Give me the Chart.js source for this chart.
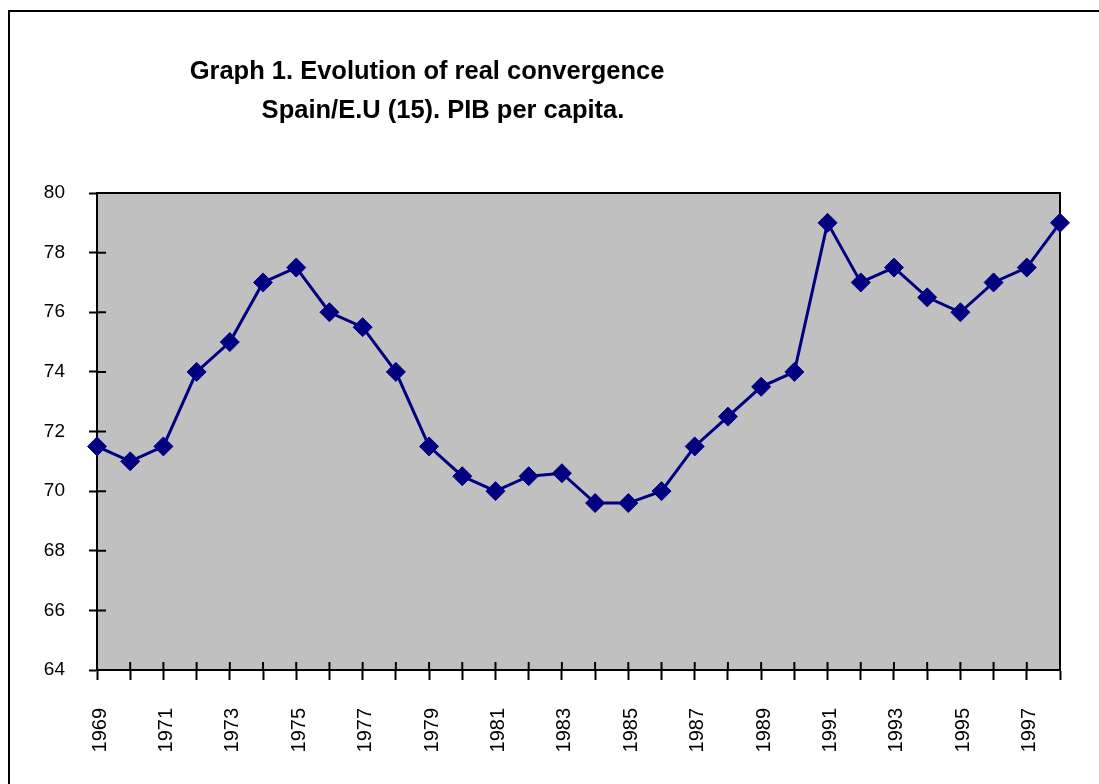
<!DOCTYPE html>
<html>
<head>
<meta charset="utf-8">
<script src="https://cdn.jsdelivr.net/npm/chart.js@4/dist/chart.umd.min.js"></script>
<style>
  body { margin: 0; background: #fff; }
  canvas { display: block; }
</style>
</head>
<body>
<canvas id="myChart" width="1099" height="784"></canvas>
<script>
const years = [
    '1969', '1970', '1971', '1972', '1973', '1974', '1975', '1976', '1977', '1978',
    '1979', '1980', '1981', '1982', '1983', '1984', '1985', '1986', '1987', '1988',
    '1989', '1990', '1991', '1992', '1993', '1994', '1995', '1996', '1997', '1998'
];
const gdpRatio = [
    71.5, 71, 71.5, 74, 75, 77, 77.5, 76, 75.5, 74,
    71.5, 70.5, 70, 70.5, 70.6, 69.6, 69.6, 70, 71.5, 72.5,
    73.5, 74, 79, 77, 77.5, 76.5, 76, 77, 77.5, 79
];
const titleLines = [
    'Graph 1. Evolution of real convergence',
    'Spain/E.U (15). PIB per capita.'
];

// white page, outer frame, grey plot area, inner half of the ticks, title
const decor = {
    id: 'decor',
    beforeDraw(chart) {
        const { ctx, chartArea: a } = chart;
        ctx.save();
        ctx.fillStyle = '#fff';
        ctx.fillRect(0, 0, chart.width, chart.height);
        ctx.strokeStyle = '#000';
        ctx.lineWidth = 2;
        ctx.strokeRect(9, 11, 1200, 900);
        ctx.fillStyle = '#c0c0c0';
        ctx.fillRect(a.left, a.top, a.right - a.left, a.bottom - a.top);

        ctx.fillStyle = '#000';
        ctx.font = 'bold 25.5px "Liberation Sans", Arial, sans-serif';
        ctx.textAlign = 'center';
        ctx.textBaseline = 'alphabetic';
        ctx.fillText(titleLines[0], 427, 79);
        ctx.fillText(titleLines[1], 443, 118);
        ctx.restore();
    },
    beforeDatasetsDraw(chart) {
        const { ctx, chartArea: a, scales } = chart;
        ctx.save();
        ctx.strokeStyle = '#000';
        ctx.lineWidth = 2;
        ctx.strokeRect(a.left, a.top, a.right - a.left, a.bottom - a.top);
        ctx.beginPath();
        scales.y.ticks.forEach((t, i) => {
            const y = scales.y.getPixelForTick(i);
            ctx.moveTo(a.left, y);
            ctx.lineTo(a.left + 9, y);
        });
        scales.x.ticks.forEach((t, i) => {
            const x = scales.x.getPixelForTick(i);
            ctx.moveTo(x, a.bottom);
            ctx.lineTo(x, a.bottom - 8);
        });
        ctx.stroke();
        ctx.restore();
    }
};

new Chart(document.getElementById('myChart'), {
    type: 'line',
    data: {
        labels: years,
        datasets: [{
            data: gdpRatio,
            borderColor: '#000080',
            backgroundColor: '#000080',
            borderWidth: 3,
            pointStyle: 'rectRot',
            pointRadius: 9.5,
            pointBorderWidth: 1,
            pointBorderColor: '#000080',
            tension: 0
        }]
    },
    options: {
        responsive: false,
        animation: false,
        devicePixelRatio: 1,
        layout: { padding: { top: 193, right: 39, left: 0, bottom: 0 } },
        plugins: {
            legend: { display: false },
            title: { display: false },
            tooltip: { enabled: false }
        },
        scales: {
            x: {
                offset: false,
                afterFit(scale) {
                    scale.height = 114;
                    scale.paddingLeft = 0;
                    scale.paddingRight = 0;
                },
                grid: {
                    drawOnChartArea: false,
                    drawTicks: true,
                    tickLength: 10,
                    tickWidth: 2,
                    tickColor: '#000',
                    offset: false
                },
                border: { display: true, color: '#000', width: 2 },
                ticks: {
                    autoSkip: false,
                    minRotation: 90,
                    maxRotation: 90,
                    padding: 28,
                    labelOffset: 3,
                    color: '#000',
                    font: { family: '"Liberation Sans", Arial, sans-serif', size: 20 },
                    callback(value, index) {
                        return index % 2 === 0 ? this.getLabelForValue(value) : '';
                    }
                }
            },
            y: {
                min: 64,
                max: 80,
                afterFit(scale) { scale.width = 97; },
                grid: {
                    drawOnChartArea: false,
                    drawTicks: true,
                    tickLength: 8,
                    tickWidth: 2,
                    tickColor: '#000'
                },
                border: { display: true, color: '#000', width: 2 },
                ticks: {
                    stepSize: 2,
                    padding: 24,
                    color: '#000',
                    font: { family: '"Liberation Sans", Arial, sans-serif', size: 19 }
                }
            }
        }
    },
    plugins: [decor]
});
</script>
</body>
</html>
